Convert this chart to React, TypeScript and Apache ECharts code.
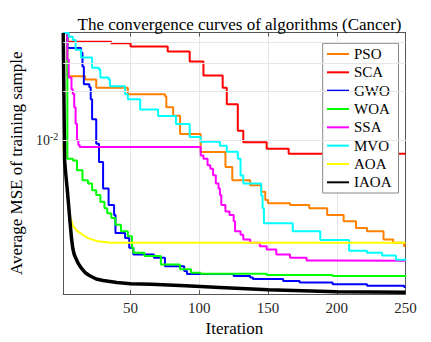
import React, { useEffect, useRef } from 'react';
import * as echarts from 'echarts';

const seriesNames = ['PSO', 'SCA', 'GWO', 'WOA', 'SSA', 'MVO', 'AOA', 'IAOA'];
const seriesColors = ['#FF8000', '#FF0000', '#0000FF', '#00FF00', '#FF00FF', '#00FFFF', '#FFFF00', '#000000'];

const psoData = [[1,0.0458],[4,0.0248],[17,0.0237],[25,0.0211],[48,0.0192],[75,0.0187],[76,0.0160],[81,0.01415],[86,0.01094],[101,0.00846],[119,0.00685],[124,0.00568],[137,0.00529],[145,0.00483],[148,0.00429],[150,0.00409],[166,0.00400],[180,0.00382],[193,0.00347],[205,0.00317],[214,0.00288],[222,0.00275],[234,0.00245],[241,0.00234],[249,0.00223],[250,0.00223]];
const scaData = [[1,0.0458],[4,0.0405],[36,0.0396],[50,0.0378],[77,0.0352],[93,0.0306],[103,0.0251],[117,0.0211],[120,0.0167],[128,0.01146],[132,0.00974],[149,0.00886],[165,0.00826],[250,0.00826]];
const gwoData = [[1,0.0458],[4,0.0370],[14,0.0346],[15,0.0285],[16,0.0221],[20,0.0212],[21,0.0179],[22,0.0135],[25,0.00951],[27,0.00735],[30,0.00505],[34,0.00400],[38,0.00347],[39,0.00269],[46,0.00250],[49,0.00218],[52,0.00198],[67,0.00189],[75,0.00168],[89,0.00157],[91,0.00150],[125,0.00146],[137,0.00143],[139,0.00140],[161,0.00136],[173,0.00133],[197,0.00130],[222,0.00127],[249,0.00125],[250,0.00125]];
const woaData = [[1,0.0458],[4,0.00770],[8,0.00752],[11,0.00653],[15,0.00568],[19,0.00542],[22,0.00493],[25,0.00460],[28,0.00419],[31,0.00382],[33,0.00356],[36,0.00332],[39,0.00302],[43,0.00275],[48,0.00257],[51,0.00218],[52,0.00203],[60,0.00194],[72,0.00172],[86,0.00161],[94,0.00153],[101,0.00151],[149,0.00148],[197,0.00146],[250,0.00144]];
const ssaData = [[1,0.0458],[4,0.0314],[5,0.0244],[7,0.0206],[8,0.0193],[9,0.0160],[10,0.01264],[11,0.0100],[12,0.00934],[13,0.00908],[101,0.00807],[103,0.00770],[106,0.00701],[108,0.00669],[110,0.00609],[112,0.00542],[114,0.00505],[115,0.00460],[116,0.00400],[119,0.00364],[122,0.00347],[125,0.00317],[126,0.00275],[130,0.00262],[132,0.00245],[137,0.00234],[144,0.00223],[149,0.00213],[156,0.00198],[166,0.00189],[178,0.00182],[197,0.00181],[250,0.00181]];
const mvoData = [[1,0.0458],[5,0.0434],[8,0.0415],[10,0.0361],[14,0.0323],[22,0.0280],[27,0.0273],[28,0.0244],[34,0.0237],[35,0.0215],[46,0.0192],[48,0.0179],[57,0.0155],[70,0.0141],[83,0.0126],[93,0.01049],[101,0.00978],[115,0.00925],[120,0.00850],[128,0.00770],[130,0.00607],[132,0.00542],[145,0.00458],[146,0.00382],[147,0.00309],[168,0.00275],[188,0.00243],[209,0.00209],[222,0.00203],[233,0.00195],[243,0.00184],[250,0.00181]];
const aoaData = [[1,0.0095],[2,0.0079],[3,0.0060],[4,0.0046],[5,0.0038],[6,0.0034],[8,0.00298],[11,0.00277],[15,0.00263],[19,0.0025],[26,0.00239],[36,0.00234],[250,0.00234]];
const iaoaData = [[1,0.0458],[2,0.0075],[3,0.0060],[4,0.0049],[5,0.0039],[6,0.0031],[7,0.0025],[8,0.00215],[9,0.00198],[10,0.00189],[12,0.00174],[14,0.00164],[17,0.00153],[20,0.00147],[25,0.0014],[30,0.00137],[40,0.00133],[50,0.00131],[65,0.0013],[90,0.00127],[115,0.00124],[150,0.0012],[200,0.00117],[250,0.00116]];

const xTickLabels = [50, 100, 150, 200, 250];
const yGridValues = [0.002, 0.003, 0.004, 0.005, 0.006, 0.007, 0.008, 0.009, 0.01, 0.02, 0.03, 0.04];

const FONT = 'Liberation Serif';

export default function App() {
  const ref = useRef<HTMLDivElement>(null);
  useEffect(() => {
    document.body.style.margin = '0';
    const chart = echarts.init(ref.current!, null, { renderer: 'svg' });
    const allData = [psoData, scaData, gwoData, woaData, ssaData, mvoData, aoaData, iaoaData];
    const stepped = [true, true, true, true, true, true, false, false];
    const lineSeries = seriesNames.map((name, i) => ({
      type: 'line',
      name,
      data: allData[i],
      step: stepped[i] ? 'end' : false,
      symbol: 'none',
      showSymbol: false,
      clip: true,
      z: 3,
      lineStyle: { color: seriesColors[i], width: name === 'IAOA' ? 3.5 : 2 },
      itemStyle: { color: seriesColors[i] },
    }));
    const gridSeries = {
      type: 'line',
      name: 'grid',
      data: [],
      z: 1,
      silent: true,
      markLine: {
        silent: true,
        symbol: 'none',
        label: { show: false },
        lineStyle: { color: '#e6e6e6', width: 1, type: 'solid' },
        data: yGridValues.map((v) => ({ yAxis: v })),
      },
    };
    chart.setOption({
      animation: false,
      backgroundColor: '#fff',
      title: {
        text: 'The convergence curves of algorithms (Cancer)',
        left: 234.5,
        textAlign: 'center',
        top: 11,
        textStyle: { fontFamily: FONT, fontSize: 17, fontWeight: 'normal', color: '#000' },
      },
      grid: { left: 63, right: 25.5, top: 32.5, bottom: 46, show: false },
      legend: {
        data: seriesNames,
        orient: 'vertical',
        left: 322.7,
        top: 43.3,
        itemWidth: 22,
        itemHeight: 15,
        itemGap: 3.33,
        padding: [3.2, 7, 3.2, 3.3],
        backgroundColor: '#fff',
        borderColor: '#888',
        borderWidth: 1,
        borderRadius: 0,
        itemStyle: { opacity: 0 },
        textStyle: { fontFamily: FONT, fontSize: 15, color: '#000', lineHeight: 15 },
      },
      xAxis: [
        {
          type: 'value',
          min: 1,
          max: 250,
          splitNumber: 5,
          name: 'Iteration',
          nameLocation: 'middle',
          nameGap: 25,
          nameTextStyle: { fontFamily: FONT, fontSize: 17, color: '#000' },
          axisLine: { show: true, lineStyle: { color: '#555', width: 1 } },
          axisTick: { show: true, inside: true, length: 4, lineStyle: { color: '#555' } },
          splitLine: { show: true, lineStyle: { color: '#e6e6e6', width: 1 } },
          axisLabel: {
            margin: 6,
            fontFamily: FONT,
            fontSize: 15,
            color: '#262626',
            formatter: (v: number) => (xTickLabels.includes(v) ? String(v) : ''),
          },
        },
        {
          type: 'value',
          position: 'top',
          min: 1,
          max: 250,
          splitNumber: 5,
          axisLine: { show: true, lineStyle: { color: '#555', width: 1 } },
          axisTick: { show: true, inside: true, length: 4, lineStyle: { color: '#555' } },
          splitLine: { show: false },
          axisLabel: { show: false },
        },
      ],
      yAxis: [
        {
          type: 'log',
          logBase: 10,
          min: 0.00113,
          max: 0.0461,
          name: 'Average MSE of training sample',
          nameLocation: 'middle',
          nameGap: 27,
          nameRotate: 90,
          nameTextStyle: { fontFamily: FONT, fontSize: 17, color: '#000' },
          axisLine: { show: true, lineStyle: { color: '#555', width: 1 } },
          axisTick: { show: true, inside: true, length: 4, lineStyle: { color: '#555' } },
          splitLine: { show: false },
          axisLabel: {
            margin: 5,
            formatter: (v: number) => (Math.abs(Math.log10(v) + 2) < 1e-6 ? '{b|10}{s|-2}' : ''),
            rich: {
              b: { fontFamily: FONT, fontSize: 14, color: '#262626', verticalAlign: 'bottom', lineHeight: 14, padding: [6, 0, 0, 0] },
              s: { fontFamily: FONT, fontSize: 10, color: '#262626', verticalAlign: 'bottom', lineHeight: 10, padding: [0, 0, 5.5, 0] },
            },
          },
        },
        {
          type: 'log',
          logBase: 10,
          min: 0.00113,
          max: 0.0461,
          position: 'right',
          axisLine: { show: true, lineStyle: { color: '#555', width: 1 } },
          axisTick: { show: true, inside: true, length: 4, lineStyle: { color: '#555' } },
          splitLine: { show: false },
          axisLabel: { show: false },
        },
      ],
      series: [gridSeries, ...lineSeries],
    });
    return () => chart.dispose();
  }, []);
  return <div ref={ref} style={{ width: 431, height: 342 }} />;
}
